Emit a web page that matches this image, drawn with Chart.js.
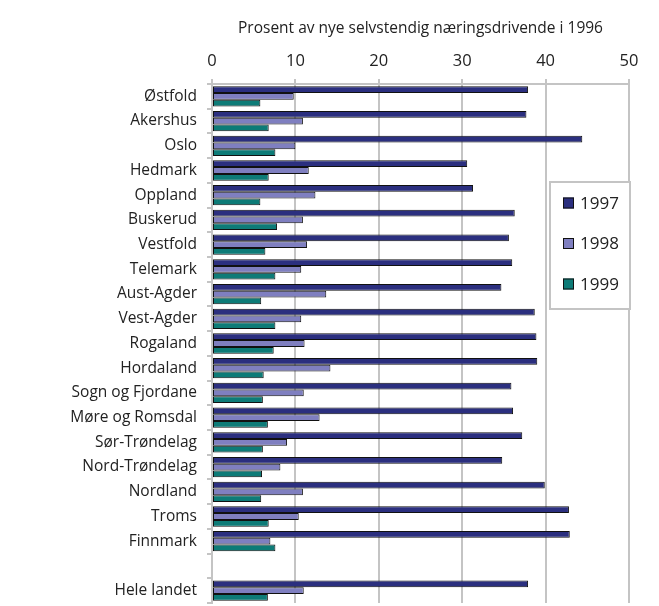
<!DOCTYPE html>
<html>
<head>
<meta charset="utf-8">
<script src="https://cdn.jsdelivr.net/npm/chart.js@4/dist/chart.umd.min.js"></script>
<style>
  body { margin: 0; background: #fff; }
  #wrap { width: 659px; height: 606px; }
</style>
</head>
<body>
<div id="wrap"><canvas id="myChart"></canvas></div>
<script>
// Fylker, with an empty slot before the national total
let counties = ['Østfold', 'Akershus', 'Oslo', 'Hedmark', 'Oppland', 'Buskerud', 'Vestfold',
  'Telemark', 'Aust-Agder', 'Vest-Agder', 'Rogaland', 'Hordaland', 'Sogn og Fjordane',
  'Møre og Romsdal', 'Sør-Trøndelag', 'Nord-Trøndelag', 'Nordland', 'Troms', 'Finnmark',
  '', 'Hele landet'];

// Values (percent)
let values1997 = [37.9, 37.7, 44.4, 30.6, 31.3, 36.3, 35.6, 36.0, 34.7, 38.7, 38.9, 39.0,
  35.9, 36.1, 37.2, 34.8, 39.9, 42.8, 42.9, null, 37.9];
let values1998 = [9.8, 10.9, 10.0, 11.6, 12.4, 10.9, 11.4, 10.7, 13.7, 10.7, 11.1, 14.2,
  11.0, 12.9, 9.0, 8.2, 10.9, 10.4, 7.0, null, 11.0];
let values1999 = [5.8, 6.8, 7.6, 6.8, 5.8, 7.8, 6.4, 7.6, 5.9, 7.6, 7.4, 6.2,
  6.1, 6.7, 6.1, 6.0, 5.9, 6.8, 7.6, null, 6.7];

let seriesLabels = ['1997', '1998', '1999'];
let seriesColors = ['#2b2f7f', '#7f7fc0', '#0d7b77'];
let xTicks = [0, 10, 20, 30, 40, 50];
let axisTitle = 'Prosent av nye selvstendig næringsdrivende i 1996';

let fontFamily = '"Open Sans", "Noto Sans", sans-serif';
let gridGray = '#c4c4c4';

// Legend box floating inside the plot, drawn by hand
let boxLegend = {
  id: 'boxLegend',
  afterDraw: function(chart) {
    let ctx = chart.ctx;
    let x = 550, y = 182, w = 80, h = 127;
    ctx.save();
    ctx.fillStyle = '#fff';
    ctx.fillRect(x, y, w, h);
    ctx.strokeStyle = gridGray;
    ctx.lineWidth = 2;
    ctx.strokeRect(x, y, w, h);
    ctx.font = '17px ' + fontFamily;
    ctx.textBaseline = 'middle';
    chart.data.datasets.forEach(function(ds, i) {
      let cy = 203 + i * 40.5;
      ctx.fillStyle = ds.backgroundColor;
      ctx.fillRect(563, cy - 5.5, 11, 11);
      ctx.strokeStyle = '#111';
      ctx.lineWidth = 1;
      ctx.strokeRect(563.5, cy - 5, 10, 10);
      ctx.fillStyle = '#222';
      ctx.fillText(ds.label, 580, cy + 1);
    });
    ctx.restore();
  }
};

let datasets = [values1997, values1998, values1999].map(function(vals, i) {
  return {
    label: seriesLabels[i],
    data: vals,
    backgroundColor: seriesColors[i],
    borderColor: '#111',
    borderWidth: 1,
    borderSkipped: false,
    categoryPercentage: 0.82,
    barPercentage: 1.0
  };
});

let ctx = document.getElementById('myChart');
let myChart = new Chart(ctx, {
  type: 'bar',
  data: { labels: counties, datasets: datasets },
  options: {
    indexAxis: 'y',
    responsive: true,
    maintainAspectRatio: false,
    animation: false,
    layout: { padding: { left: 0, right: 30, top: 0, bottom: 3 } },
    plugins: {
      legend: { display: false },
      tooltip: { enabled: false }
    },
    scales: {
      x: {
        position: 'top',
        min: 0,
        max: 50,
        afterBuildTicks: function(scale) {
          scale.ticks = xTicks.map(function(v) { return { value: v }; });
        },
        afterFit: function(scale) { scale.height = 84; },
        grid: { color: gridGray, lineWidth: 2, tickLength: 5 },
        border: { display: true, color: gridGray, width: 2 },
        ticks: { color: '#222', font: { family: fontFamily, size: 16.5 }, padding: 8 },
        title: {
          display: true,
          text: axisTitle,
          color: '#222',
          font: { family: fontFamily, size: 15.5 },
          padding: { top: 19, bottom: 0 }
        }
      },
      y: {
        afterFit: function(scale) {
          scale.width = 212;
          // labels sit inside their bands, no need for extra room above/below
          scale.paddingTop = 0;
          scale.paddingBottom = 0;
        },
        grid: { drawOnChartArea: false, color: gridGray, lineWidth: 2, tickLength: 5, offset: true },
        border: { display: true, color: gridGray, width: 2 },
        ticks: { color: '#222', font: { family: fontFamily, size: 15.5 }, padding: 10, autoSkip: false }
      }
    }
  },
  plugins: [boxLegend]
});
</script>
</body>
</html>
